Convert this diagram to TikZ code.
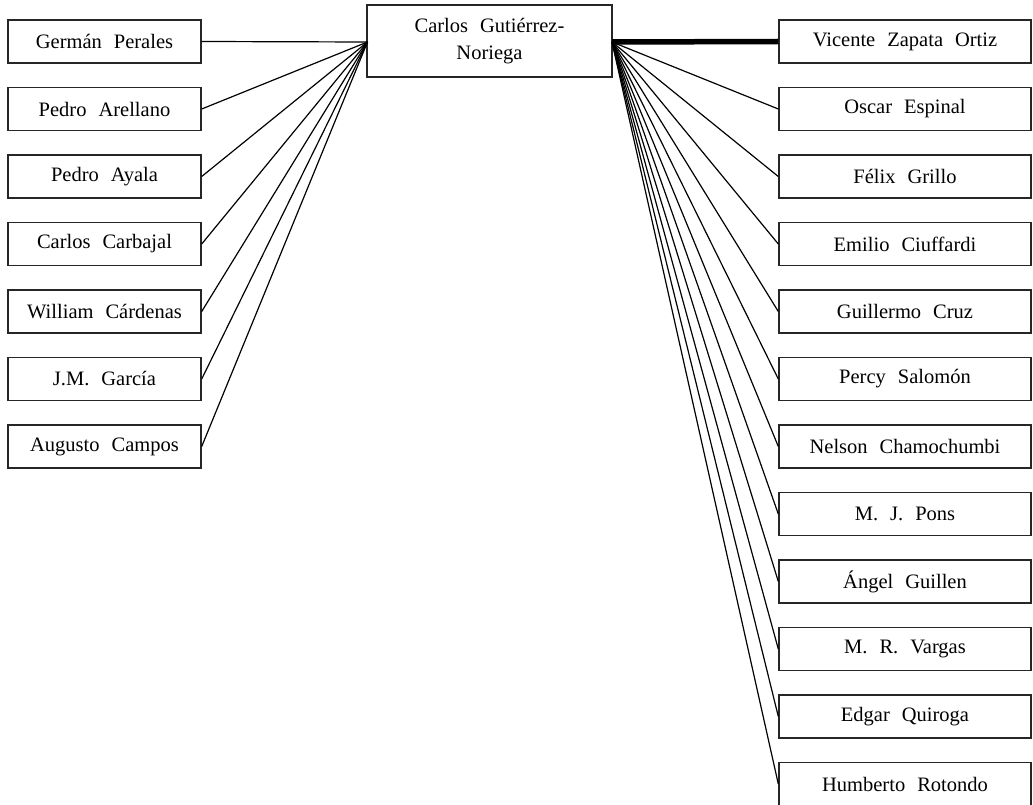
\documentclass[tikz,border=0pt]{standalone}
\usepackage{fontspec}
\setmainfont{Liberation Serif}
\newcommand{\namefont}{\fontsize{20.5}{27}\selectfont\spaceskip=12pt\relax}
\begin{document}
\begin{tikzpicture}[x=1pt,y=-1pt,
  person/.style={draw=black!85,line width=1.4pt,rectangle,inner sep=0pt,
    minimum height=43pt,font=\namefont},
  lbox/.style={person,minimum width=193pt},
  rbox/.style={person,minimum width=252pt},
  link/.style={line width=1.2pt,black},
  strong/.style={line width=5.5pt,black}]
\useasboundingbox (0,0) rectangle (1033,805);
\node[person,minimum width=245pt,minimum height=72pt,align=center] (c) at (489.5,41)
  {Carlos Gutiérrez-\\Noriega};
\coordinate (cl) at (367.5,42);
\coordinate (cr) at (612,42);
% left
\node[lbox] (l1) at (104.5,41.5) {Germán Perales};
\node[lbox] (l2) at (104.5,109) {Pedro Arellano};
\node[lbox] (l3) at (104.5,176.5) {Pedro Ayala};
\node[lbox] (l4) at (104.5,244) {Carlos Carbajal};
\node[lbox] (l5) at (104.5,311.5) {William Cárdenas};
\node[lbox] (l6) at (104.5,379) {J.M. García};
\node[lbox] (l7) at (104.5,446.5) {Augusto Campos};
% right
\node[rbox] (r1) at (905,41.5) {Vicente Zapata Ortiz};
\node[rbox] (r2) at (905,109) {Oscar Espinal};
\node[rbox] (r3) at (905,176.5) {Félix Grillo};
\node[rbox] (r4) at (905,244) {Emilio Ciuffardi};
\node[rbox] (r5) at (905,311.5) {Guillermo Cruz};
\node[rbox] (r6) at (905,379) {Percy Salomón};
\node[rbox] (r7) at (905,446.5) {Nelson Chamochumbi};
\node[rbox] (r8) at (905,514) {M. J. Pons};
\node[rbox] (r9) at (905,581.5) {Ángel Guillen};
\node[rbox] (r10) at (905,649) {M. R. Vargas};
\node[rbox] (r11) at (905,716.5) {Edgar Quiroga};
\node[rbox] (r12) at (905,784) {Humberto Rotondo};
\foreach \i in {1,...,7} \draw[link] (l\i.east) -- (cl);
\draw[strong] (cr) -- (r1.west);
\foreach \i in {2,...,12} \draw[link] (cr) -- (r\i.west);
\end{tikzpicture}
\end{document}
